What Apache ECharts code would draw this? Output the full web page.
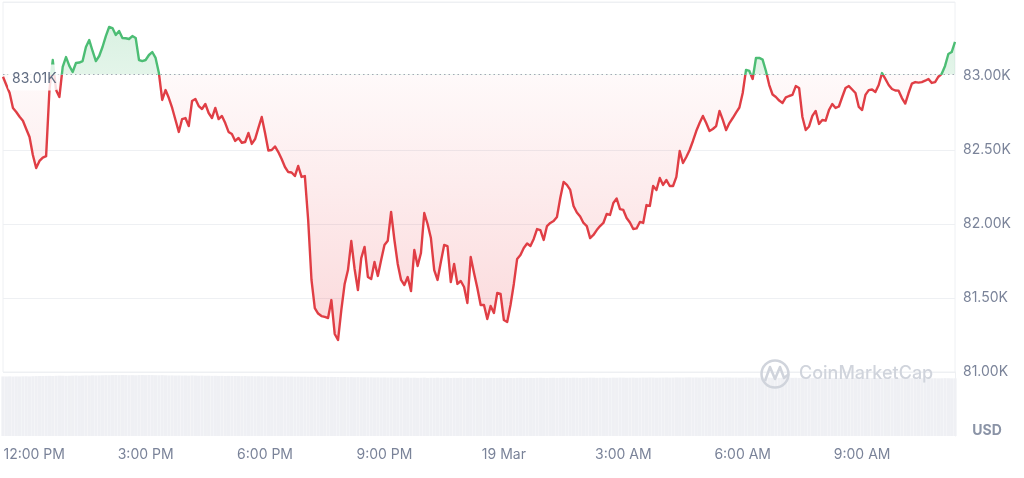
<!DOCTYPE html>
<html>
<head>
<meta charset="utf-8">
<script src="https://cdn.jsdelivr.net/npm/echarts@6/dist/echarts.min.js"></script>
<style>
html,body{margin:0;padding:0;background:#ffffff;}
#chart{width:1024px;height:478px;}
</style>
</head>
<body>
<div id="chart"></div>
<script>
// ---------------- data ----------------
const startTime = '11:25';      // first sample (18 Mar)
const stepMinutes = 5;

// BTC price in thousands USD (5-minute samples)
const prices = [
  82.995, 82.939, 82.885, 82.784, 82.757, 82.725, 82.698, 82.642, 82.588, 82.466,
  82.378, 82.426, 82.449, 82.459, 82.905, 83.108, 82.905, 82.858, 83.061, 83.128,
  83.068, 83.027, 83.088, 83.091, 83.101, 83.196, 83.243, 83.169, 83.101, 83.135,
  83.196, 83.270, 83.331, 83.324, 83.277, 83.304, 83.257, 83.255, 83.250, 83.270,
  83.257, 83.108, 83.101, 83.108, 83.142, 83.162, 83.122, 83.020, 82.838, 82.905,
  82.851, 82.784, 82.703, 82.622, 82.709, 82.716, 82.662, 82.831, 82.845, 82.797,
  82.777, 82.811, 82.750, 82.716, 82.784, 82.709, 82.730, 82.682, 82.622, 82.608,
  82.561, 82.581, 82.549, 82.554, 82.615, 82.541, 82.574, 82.649, 82.723, 82.615,
  82.497, 82.500, 82.524, 82.486, 82.439, 82.385, 82.351, 82.348, 82.324, 82.392,
  82.318, 82.324, 82.027, 81.622, 81.432, 81.395, 81.378, 81.372, 81.365, 81.486,
  81.257, 81.216, 81.419, 81.595, 81.689, 81.885, 81.696, 81.554, 81.770, 81.845,
  81.642, 81.628, 81.743, 81.649, 81.757, 81.858, 81.887, 82.081, 81.892, 81.730,
  81.622, 81.588, 81.642, 81.547, 81.824, 81.716, 81.804, 82.074, 82.000, 81.905,
  81.689, 81.622, 81.743, 81.858, 81.851, 81.608, 81.730, 81.595, 81.615, 81.574,
  81.466, 81.777, 81.669, 81.568, 81.453, 81.453, 81.358, 81.446, 81.399, 81.534,
  81.527, 81.351, 81.338, 81.453, 81.595, 81.764, 81.791, 81.838, 81.868, 81.851,
  81.899, 81.966, 81.959, 81.892, 81.986, 82.007, 82.020, 82.047, 82.176, 82.284,
  82.264, 82.230, 82.122, 82.078, 82.051, 82.007, 81.986, 81.905, 81.926, 81.959,
  81.986, 82.007, 82.068, 82.061, 82.142, 82.172, 82.101, 82.095, 82.041, 82.010,
  81.966, 81.970, 82.014, 82.007, 82.128, 82.122, 82.257, 82.230, 82.311, 82.264,
  82.297, 82.257, 82.257, 82.318, 82.493, 82.412, 82.453, 82.500, 82.561, 82.628,
  82.682, 82.730, 82.682, 82.628, 82.642, 82.662, 82.764, 82.703, 82.635, 82.682,
  82.716, 82.753, 82.787, 82.885, 83.041, 83.034, 82.980, 83.122, 83.122, 83.111,
  83.034, 82.939, 82.875, 82.858, 82.834, 82.818, 82.855, 82.865, 82.872, 82.932,
  82.919, 82.723, 82.635, 82.659, 82.730, 82.764, 82.676, 82.703, 82.698, 82.770,
  82.811, 82.784, 82.794, 82.858, 82.919, 82.932, 82.909, 82.885, 82.791, 82.770,
  82.872, 82.905, 82.909, 82.892, 82.939, 83.020, 82.980, 82.939, 82.912, 82.902,
  82.901, 82.851, 82.814, 82.885, 82.949, 82.959, 82.955, 82.959, 82.968, 82.980,
  82.953, 82.959, 82.995, 83.015, 83.068, 83.149, 83.162, 83.230
];

// relative trading volume per sample (0-100 scale)
const volumes = [
  93.1, 93.0, 93.2, 92.9, 93.1, 93.0, 93.2, 93.3, 93.1, 93.4,
  93.6, 93.8, 93.7, 93.9, 94.0, 93.8, 94.1, 94.3, 94.2, 94.0,
  94.1, 94.3, 94.5, 94.2, 94.4, 94.6, 94.5, 94.8, 94.6, 94.7,
  94.9, 95.1, 95.0, 95.2, 95.3, 95.1, 95.4, 95.2, 95.0, 95.1,
  94.9, 95.2, 95.3, 95.1, 95.4, 95.2, 95.0, 94.9, 95.1, 94.8,
  94.6, 94.7, 94.5, 94.6, 94.4, 94.5, 94.3, 94.6, 94.4, 94.2,
  94.3, 94.1, 94.2, 94.0, 94.1, 93.9, 94.0, 93.8, 93.9, 93.7,
  93.8, 93.6, 93.5, 93.7, 93.4, 93.5, 93.3, 93.4, 93.2, 93.3,
  93.1, 93.2, 93.0, 93.1, 92.9, 93.0, 92.8, 92.9, 92.7, 92.8,
  92.6, 92.7, 92.5, 92.6, 92.4, 92.5, 92.3, 92.4, 92.2, 92.3,
  92.1, 92.2, 92.0, 92.1, 91.9, 92.0, 91.8, 91.9, 91.7, 91.8,
  91.6, 91.7, 91.5, 91.6, 91.4, 91.5, 91.3, 91.4, 91.2, 91.3,
  91.2, 91.1, 91.3, 91.0, 91.1, 90.9, 91.0, 91.2, 90.8, 91.0,
  90.9, 91.1, 90.8, 90.9, 91.0, 90.7, 90.9, 90.8, 91.0, 90.6,
  90.8, 90.7, 90.9, 90.6, 90.8, 90.7, 90.5, 90.8, 90.6, 90.7,
  90.9, 90.8, 90.6, 90.7, 90.5, 90.8, 90.9, 90.7, 90.6, 90.8,
  90.7, 90.9, 91.0, 90.8, 90.7, 90.9, 91.0, 90.8, 90.9, 91.1,
  91.0, 90.9, 91.1, 91.0, 90.8, 90.9, 91.0, 91.2, 91.1, 90.9,
  91.0, 91.1, 90.9, 91.0, 91.2, 91.1, 91.3, 91.2, 91.0, 91.1,
  91.2, 91.0, 91.1, 91.3, 91.2, 91.4, 91.3, 91.1, 91.2, 91.3,
  91.4, 91.2, 91.3, 91.5, 91.4, 91.3, 91.5, 91.6, 91.4, 91.5,
  91.3, 91.4, 91.6, 91.5, 91.3, 91.4, 91.2, 91.3, 91.5, 91.4,
  91.2, 91.3, 91.1, 91.2, 91.4, 91.3, 91.1, 91.2, 91.0, 91.1,
  91.3, 91.2, 91.0, 91.1, 90.9, 91.0, 91.2, 91.1, 90.9, 91.0,
  90.8, 90.9, 91.1, 91.0, 90.8, 90.9, 90.7, 90.8, 91.0, 90.9,
  90.7, 90.8, 90.6, 90.7, 90.9, 90.8, 90.6, 90.7, 90.5, 90.6,
  90.8, 90.7, 90.5, 90.6, 90.4, 90.5, 90.7, 90.6, 90.4, 90.5,
  90.3, 90.4, 90.6, 90.5, 90.3, 90.4, 90.2, 90.3, 90.5, 90.4,
  90.2, 90.3, 90.1, 90.2, 90.4, 90.3, 90.1, 90.2
];

// x-axis tick labels (category time -> shown text)
const xTickLabels = {
  '12:00': '12:00 PM', '15:00': '3:00 PM', '18:00': '6:00 PM', '21:00': '9:00 PM',
  '00:00': '19 Mar', '03:00': '3:00 AM', '06:00': '6:00 AM', '09:00': '9:00 AM'
};
// y-axis range (thousands USD); labels shown 81.00K..83.00K
const priceMin = 81.0, priceMax = 83.5, priceStep = 0.5, labelMax = 83.0;
const openPrice = 83.01;
const openLabel = '83.01K';
const unitLabel = 'USD';
const watermarkText = 'CoinMarketCap';

// ---------------- build categories ----------------
const times = [];
(function () {
  const p = startTime.split(':');
  let m = (+p[0]) * 60 + (+p[1]);
  for (let i = 0; i < prices.length; i++) {
    const mm = ((m % 1440) + 1440) % 1440;
    times.push(String(Math.floor(mm / 60)).padStart(2, '0') + ':' + String(mm % 60).padStart(2, '0'));
    m += stepMinutes;
  }
})();

const GREEN = '#4cbd74';
const RED = '#e03e45';
const LABEL = '#7a8399';
const GRIDC = '#eef0f3';

const chart = echarts.init(document.getElementById('chart'), null, { renderer: 'canvas' });

const gridLineColors = [GRIDC, GRIDC, GRIDC, GRIDC, 'rgba(0,0,0,0)', GRIDC];

const option = {
  animation: false,
  backgroundColor: '#ffffff',
  textStyle: { fontFamily: 'Inter' },
  grid: [
    { left: 3, right: 69, top: 2, height: 370, show: true, borderColor: GRIDC, borderWidth: 1, backgroundColor: 'transparent' },
    { left: 3, right: 69, top: 372, height: 64 }
  ],
  xAxis: [
    { type: 'category', gridIndex: 0, data: times, boundaryGap: false, show: false },
    {
      type: 'category', gridIndex: 1, data: times, boundaryGap: false,
      axisLine: { show: false }, axisTick: { show: false }, splitLine: { show: false },
      axisLabel: {
        interval: function (idx, val) { return Object.prototype.hasOwnProperty.call(xTickLabels, val); },
        formatter: function (val) {
          const t = xTickLabels[val] || '';
          return val === '12:00' ? '{first|' + t + '}' : t;
        },
        rich: { first: { padding: [0, 0, 0, 16], fontSize: 14, color: LABEL, fontFamily: 'Inter' } },
        color: LABEL, fontSize: 14, fontFamily: 'Inter', margin: 12
      }
    }
  ],
  yAxis: [
    {
      type: 'value', gridIndex: 0, position: 'right',
      min: priceMin, max: priceMax, interval: priceStep,
      axisLine: { show: false }, axisTick: { show: false },
      splitLine: { show: true, lineStyle: { color: gridLineColors, width: 1 } },
      axisLabel: {
        margin: 8, color: LABEL, fontSize: 14, fontFamily: 'Inter',
        formatter: function (v) { return v <= labelMax + 1e-6 ? v.toFixed(2) + 'K' : ''; }
      }
    },
    {
      type: 'value', gridIndex: 1, position: 'right', min: 0, max: 100,
      axisLine: { show: true, lineStyle: { color: GRIDC } },
      axisTick: { show: false }, axisLabel: { show: false }, splitLine: { show: false }
    }
  ],
  series: [
    {
      type: 'line', xAxisIndex: 0, yAxisIndex: 0, data: prices,
      symbol: 'none', smooth: false, z: 3,
      lineStyle: { width: 2.4, color: RED, join: 'round' },
      areaStyle: { origin: openPrice, color: 'rgba(234,57,67,0.1)' },
      markLine: {
        silent: true, symbol: 'none', animation: false,
        label: { show: false },
        lineStyle: { type: [1.5, 3], color: '#a3a9b5', width: 1 },
        data: [{ yAxis: openPrice }]
      }
    },
    {
      type: 'bar', xAxisIndex: 1, yAxisIndex: 1, data: volumes,
      barCategoryGap: '4%', silent: true,
      itemStyle: { color: '#eff0f4' }
    }
  ]
};
chart.setOption(option);

// colour split at the opening price, using the axis scale
const yb = chart.convertToPixel({ yAxisIndex: 0 }, openPrice);
const yTop = chart.convertToPixel({ yAxisIndex: 0 }, priceMax);
const yBot = chart.convertToPixel({ yAxisIndex: 0 }, priceMin);
const b = Math.max(0, Math.min(1, (yb - yTop) / (yBot - yTop)));

chart.setOption({
  series: [{
    lineStyle: {
      color: { type: 'linear', x: 0, y: yTop, x2: 0, y2: yBot, global: true, colorStops: [
        { offset: 0, color: GREEN }, { offset: b, color: GREEN },
        { offset: b, color: RED }, { offset: 1, color: RED }
      ] }
    },
    areaStyle: {
      origin: openPrice,
      color: { type: 'linear', x: 0, y: yTop, x2: 0, y2: yBot, global: true, colorStops: [
        { offset: 0, color: 'rgba(76,189,116,0.34)' }, { offset: b, color: 'rgba(76,189,116,0.22)' },
        { offset: b, color: 'rgba(234,57,67,0.04)' }, { offset: 1, color: 'rgba(234,57,67,0.30)' }
      ] }
    }
  }, {}],
  graphic: [
    { type: 'rect', z: 100, shape: { x: 8, y: yb - 10, width: 50, height: 26, r: 4 },
      style: { fill: 'rgba(255,255,255,0.82)' } },
    { type: 'text', z: 101, style: { text: openLabel, x: 12, y: yb + 4, verticalAlign: 'middle',
      fill: '#5f6b80', font: '14px Inter' } },
    { type: 'circle', z: 50, shape: { cx: 775, cy: 374, r: 13.5 },
      style: { fill: 'none', stroke: '#d0d4dc', lineWidth: 2.5 } },
    { type: 'polyline', z: 50, shape: { points: [[765, 381], [770, 367], [775, 379], [780, 367], [784, 378], [789, 374]] },
      style: { fill: 'none', stroke: '#d0d4dc', lineWidth: 2.5, lineJoin: 'round' } },
    { type: 'text', z: 50, style: { text: watermarkText, x: 799, y: 374, verticalAlign: 'middle',
      fill: '#d0d4dc', font: '500 18px Inter' } },
    { type: 'text', z: 50, style: { text: unitLabel, x: 987, y: 431, align: 'center', verticalAlign: 'middle',
      fill: '#8a93a6', font: 'bold 14px Inter' } }
  ]
});
</script>
</body>
</html>
